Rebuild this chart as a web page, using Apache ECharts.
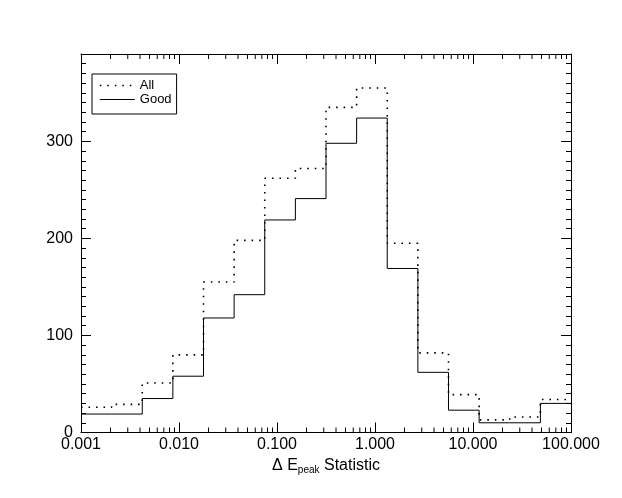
<!DOCTYPE html>
<html>
<head>
<meta charset="utf-8">
<script src="https://cdn.jsdelivr.net/npm/echarts@6/dist/echarts.min.js"></script>
<style>
html,body{margin:0;padding:0;background:#fff;}
#chart{width:622px;height:498px;}
</style>
</head>
<body>
<div id="chart"></div>
<script>
// Histogram bin edges (log-spaced, 16 bins from 0.001 to 100)
const binEdges = [0.001, 0.0020535, 0.0042170, 0.0086596, 0.017783, 0.036517, 0.074989, 0.15399,
                  0.31623, 0.64938, 1.3335, 2.7384, 5.6234, 11.548, 23.714, 48.697, 100];
// Counts per bin
const allCounts  = [26, 29, 51, 80, 155, 198, 262, 272, 335, 355, 195, 82, 39, 13, 16, 34];
const goodCounts = [19, 19, 35, 58, 118, 142, 219, 241, 298, 324, 169, 62, 23, 10, 10, 30];
// Axis ticks / labels
const xTickLabels = ['0.001', '0.010', '0.100', '1.000', '10.000', '100.000'];
const xDecades = [0.001, 0.01, 0.1, 1, 10];
const xMinorMultipliers = [2, 3, 4, 5, 6, 7, 8, 9];
const yTickLabels = ['0', '100', '200', '300'];
const yMin = 0, yMax = 390;

const xMinorTicks = [];
xDecades.forEach(d => xMinorMultipliers.forEach(m => xMinorTicks.push([m * d, 0])));

function stepData(counts) {
  return binEdges.map((e, i) => [e, i < counts.length ? counts[i] : counts[counts.length - 1]]);
}

const FONT = 'Liberation Sans, Arial, Helvetica, sans-serif';
const dotted = [1.6, 5.9];

const chart = echarts.init(document.getElementById('chart'), null, {renderer: 'canvas'});

function yAx(pos, interval, tickLen, labels) {
  return {
    type: 'value', position: pos, min: yMin, max: yMax, interval: interval,
    axisLine: {show: labels, onZero: false, lineStyle: {color: '#000', width: 1}},
    axisTick: {show: true, inside: true, length: tickLen, lineStyle: {color: '#000', width: 1}},
    axisLabel: {
      show: labels && pos === 'left', margin: 8, fontSize: 16, fontFamily: FONT, color: '#000',
      showMaxLabel: false,
      formatter: v => (v % 100 === 0 && yTickLabels.indexOf(String(v)) >= 0) ? String(v) : ''
    },
    splitLine: {show: false}
  };
}

const hiddenSymbol = {color: 'rgba(0,0,0,0)', borderColor: 'rgba(0,0,0,0)', borderWidth: 0};

chart.setOption({
  animation: false,
  backgroundColor: '#fff',
  grid: {left: 81, right: 51, top: 54, bottom: 65.5, containLabel: false},
  legend: {
    orient: 'vertical', left: 92, top: 74,
    itemWidth: 35, itemHeight: 14, itemGap: 1,
    padding: [5, 5, 8, 7],
    borderColor: '#000', borderWidth: 1,
    textStyle: {fontSize: 13, fontFamily: FONT, color: '#000'},
    data: [
      {name: 'All', itemStyle: hiddenSymbol, lineStyle: {type: dotted, width: 1.6, color: '#000'}},
      {name: 'Good', itemStyle: hiddenSymbol, lineStyle: {type: 'solid', width: 1, color: '#000'}}
    ]
  },
  xAxis: [
    {
      type: 'log', logBase: 10, min: 0.001, max: 100, splitNumber: 5, position: 'bottom',
      axisLine: {show: true, onZero: false, lineStyle: {color: '#000', width: 1}},
      axisTick: {show: true, inside: true, length: 10, lineStyle: {color: '#000', width: 1}},
      axisLabel: {
        show: true, margin: 4, fontSize: 16, fontFamily: FONT, color: '#000',
        showMinLabel: true, showMaxLabel: true, interval: 0,
        formatter: v => xTickLabels[Math.round(Math.log10(v)) + 3] || ''
      },
      splitLine: {show: false},
      name: '{a|\u0394 E}{s|peak}{a| Statistic}',
      nameLocation: 'middle', nameGap: 21,
      nameTextStyle: {
        fontFamily: FONT, color: '#000',
        rich: {
          a: {fontSize: 16, fontFamily: FONT, color: '#000', lineHeight: 20, verticalAlign: 'middle'},
          s: {fontSize: 10, fontFamily: FONT, color: '#000', lineHeight: 10, verticalAlign: 'bottom'}
        }
      }
    },
    {
      type: 'log', logBase: 10, min: 0.001, max: 100, splitNumber: 5, position: 'top',
      axisLine: {show: true, onZero: false, lineStyle: {color: '#000', width: 1}},
      axisTick: {show: true, inside: true, length: 10, lineStyle: {color: '#000', width: 1}},
      axisLabel: {show: false},
      splitLine: {show: false}
    }
  ],
  yAxis: [
    yAx('left', 100, 10, true),
    yAx('left', 10, 5, false),
    yAx('right', 100, 10, true),
    yAx('right', 10, 5, false)
  ],
  series: [
    {
      name: 'All', type: 'line', step: 'end', xAxisIndex: 0, yAxisIndex: 0,
      data: stepData(allCounts), symbol: 'none', silent: true,
      lineStyle: {color: '#000', width: 1.6, type: dotted, cap: 'butt'},
      itemStyle: {color: '#000'}
    },
    {
      name: 'Good', type: 'line', step: 'end', xAxisIndex: 0, yAxisIndex: 0,
      data: stepData(goodCounts), symbol: 'none', silent: true,
      lineStyle: {color: '#000', width: 1, type: 'solid'},
      itemStyle: {color: '#000'}
    },
    {
      name: 'minorTicks', type: 'custom', xAxisIndex: 0, yAxisIndex: 0, silent: true,
      clip: false,
      data: xMinorTicks,
      encode: {x: 0, y: 1},
      renderItem: function (params, api) {
        const v = api.value(0);
        const pb = api.coord([v, yMin]);
        const pt = api.coord([v, yMax]);
        const st = {stroke: '#000', lineWidth: 1};
        return {
          type: 'group',
          children: [
            {type: 'line', shape: {x1: pb[0], y1: pb[1], x2: pb[0], y2: pb[1] - 5}, style: st},
            {type: 'line', shape: {x1: pt[0], y1: pt[1], x2: pt[0], y2: pt[1] + 5}, style: st}
          ]
        };
      }
    }
  ]
});
</script>
</body>
</html>
